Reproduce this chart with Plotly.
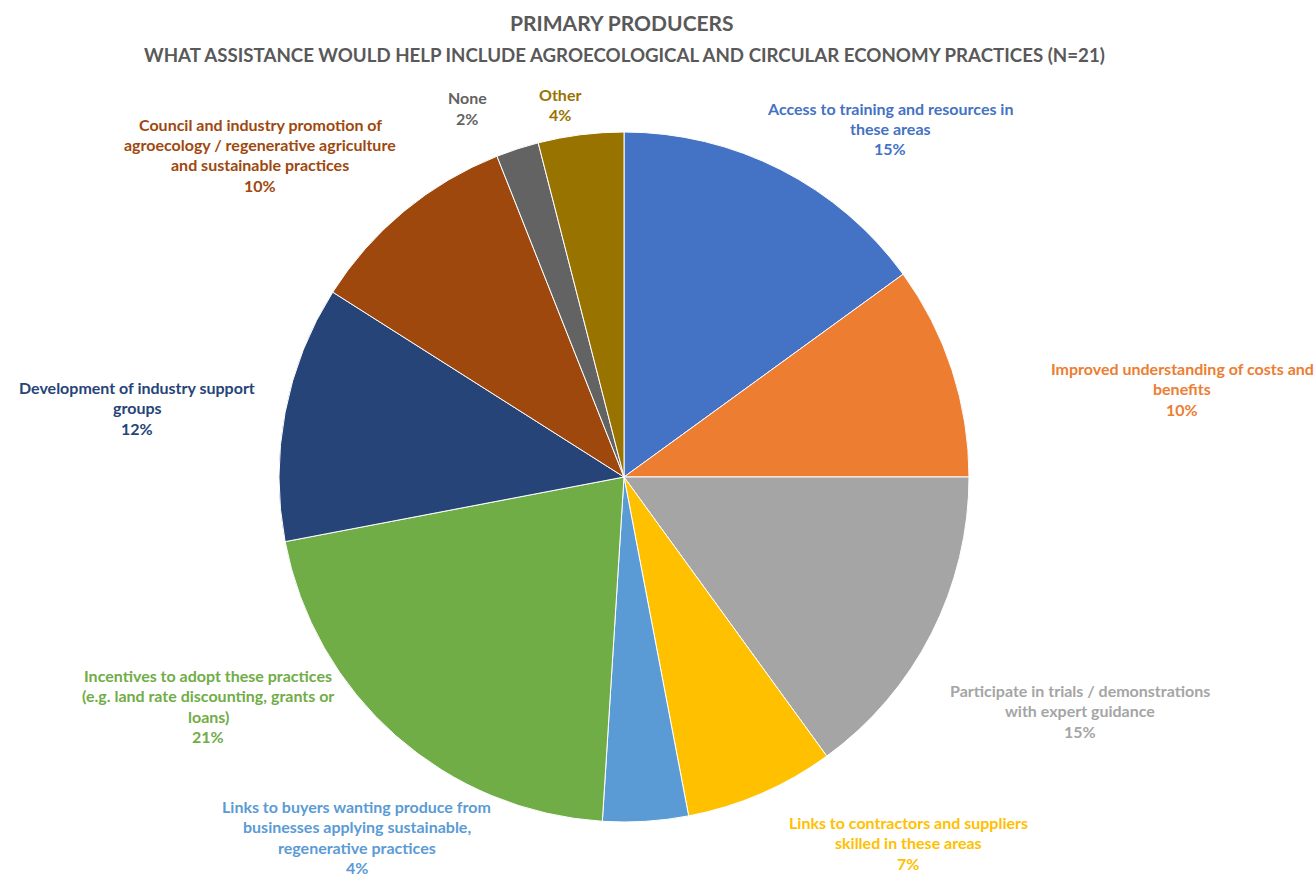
import plotly.graph_objects as go

W, H = 1316, 876

# Survey responses, in clockwise order from 12 o'clock
categories = [
    "Access to training and resources in<br>these areas",
    "Improved understanding of costs and<br>benefits",
    "Participate in trials / demonstrations<br>with expert guidance",
    "Links to contractors and suppliers<br>skilled in these areas",
    "Links to buyers wanting produce from<br>businesses applying sustainable,<br>regenerative practices",
    "Incentives to adopt these practices<br>(e.g. land rate discounting, grants or<br>loans)",
    "Development of industry support<br>groups",
    "Council and industry promotion of<br>agroecology / regenerative agriculture<br>and sustainable practices",
    "None",
    "Other",
]
shares = [15, 10, 15, 7, 4, 21, 12, 10, 2, 4]

colors = ["#4472C4", "#ED7D31", "#A5A5A5", "#FFC000", "#5B9BD5",
          "#70AD47", "#264478", "#9E480E", "#636363", "#997300"]

# Label block placement (pixel centre x, first-line y)
label_pos = [(890, 108), (1182, 368), (1080, 690), (908, 822), (357, 806),
             (208, 675), (137, 387), (260, 124), (467, 98), (560, 94)]
LINE_H = 20.5

cx, cy, r = 624, 477, 345

fig = go.Figure(go.Pie(
    labels=[c.replace("<br>", " ") for c in categories],
    values=shares,
    sort=False,
    direction="clockwise",
    rotation=0,
    marker=dict(colors=colors, line=dict(color="white", width=1)),
    textinfo="none",
    domain=dict(x=[(cx - r) / W, (cx + r) / W], y=[(H - cy - r) / H, (H - cy + r) / H]),
    showlegend=False,
))

annotations = []
for cat, val, col, (lx, ly) in zip(categories, shares, colors, label_pos):
    lines = cat.split("<br>") + [f"{val}%"]
    for i, line in enumerate(lines):
        annotations.append(dict(
            x=lx / W, y=1 - (ly + i * LINE_H) / H, xref="paper", yref="paper",
            text=f"<b>{line}</b>", showarrow=False, xanchor="center", yanchor="middle",
            font=dict(family="Lato", size=16, color=col),
        ))

annotations.append(dict(
    x=622 / W, y=1 - 22 / H, xref="paper", yref="paper", showarrow=False,
    text="<b>PRIMARY PRODUCERS</b>", xanchor="center", yanchor="middle",
    font=dict(family="Lato", size=21, color="#595959"),
))
annotations.append(dict(
    x=624 / W, y=1 - 55 / H, xref="paper", yref="paper", showarrow=False,
    text="<b>WHAT ASSISTANCE WOULD HELP INCLUDE AGROECOLOGICAL AND CIRCULAR ECONOMY PRACTICES (N=21)</b>",
    xanchor="center", yanchor="middle",
    font=dict(family="Lato", size=18.7, color="#595959"),
))

fig.update_layout(
    width=W, height=H,
    margin=dict(l=0, r=0, t=0, b=0),
    paper_bgcolor="white", plot_bgcolor="white",
    annotations=annotations,
)

fig.write_html("out.html")
